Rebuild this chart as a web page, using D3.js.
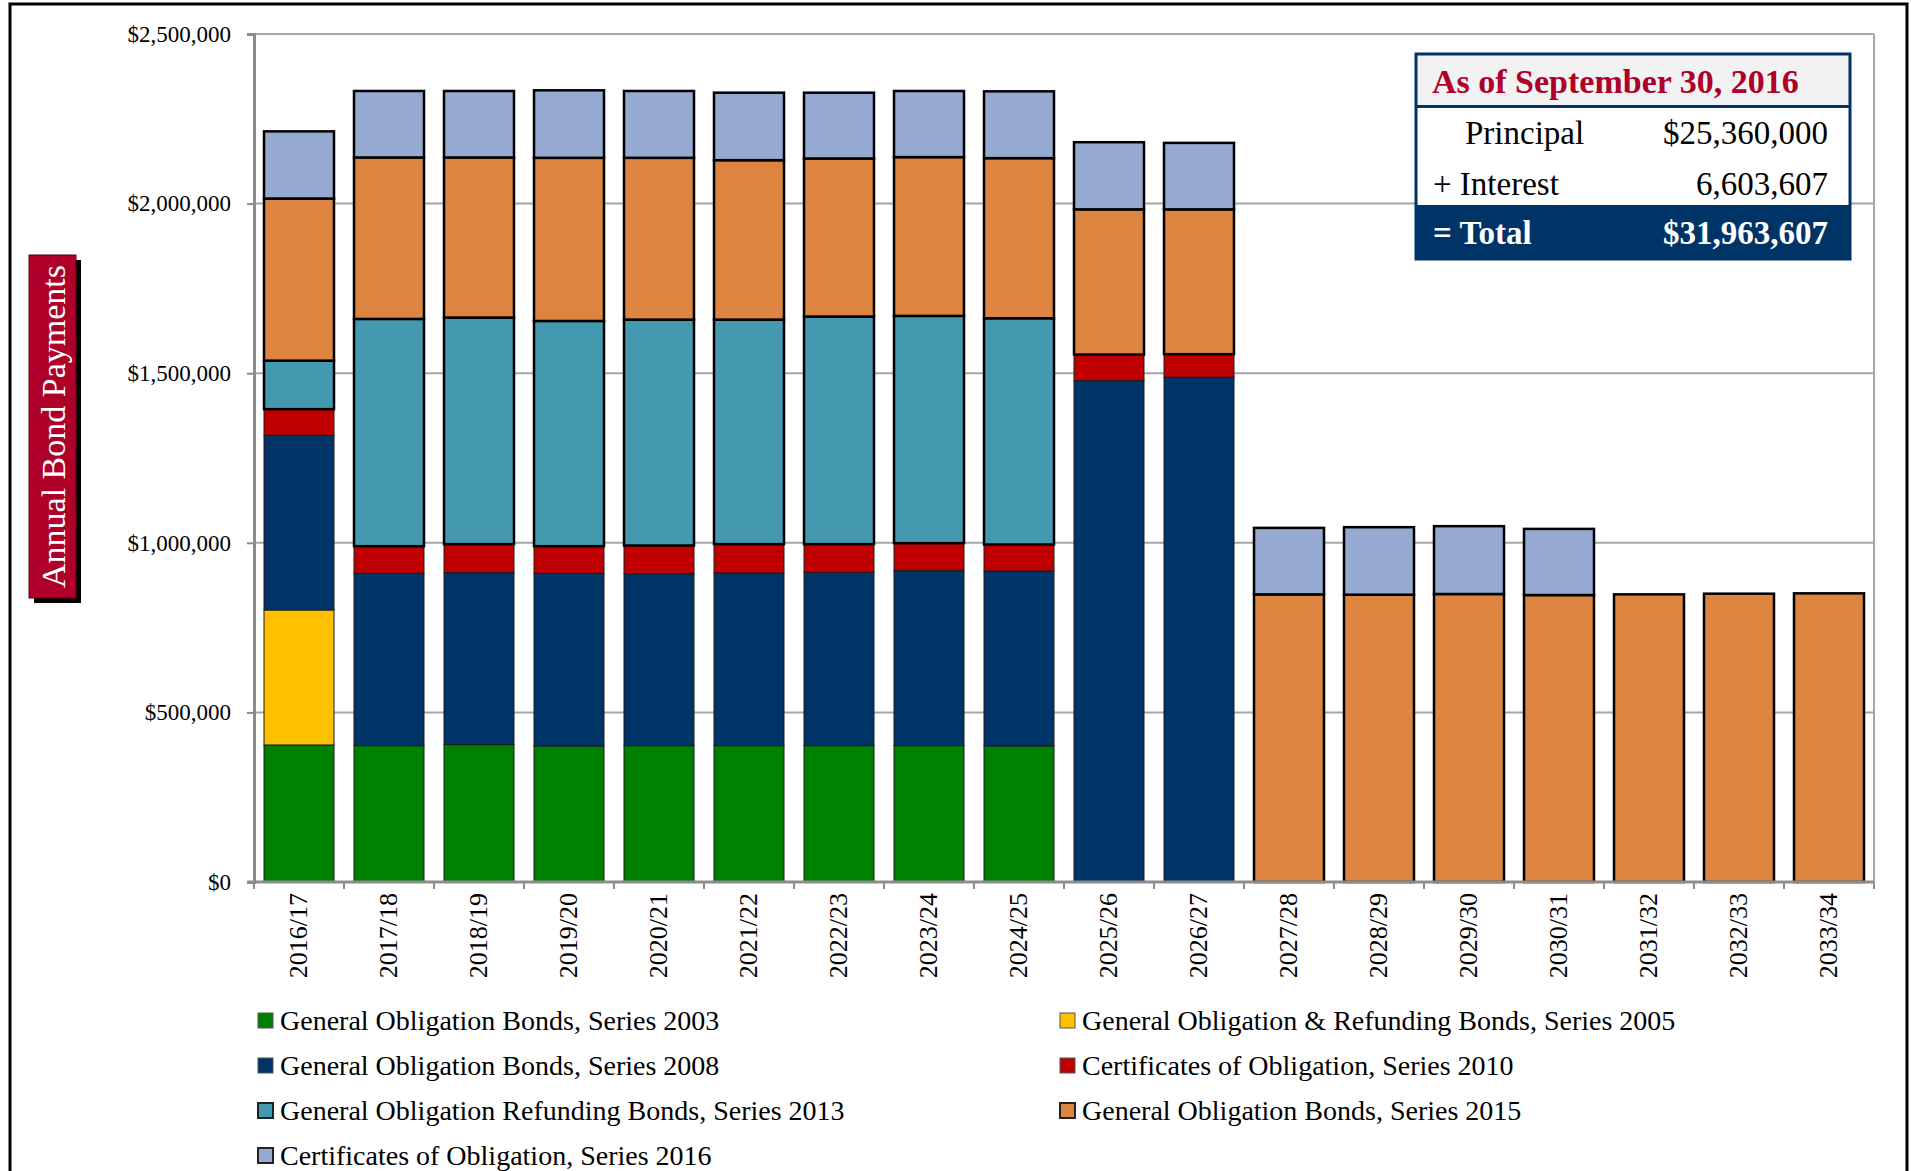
<!DOCTYPE html>
<html>
<head>
<meta charset="utf-8">
<script src="https://cdn.jsdelivr.net/npm/d3@7"></script>
<style>
  html, body { margin: 0; padding: 0; background: #ffffff; }
  svg { display: block; }
  text { font-family: "Liberation Serif", "Times New Roman", serif; }
</style>
</head>
<body>
<svg id="chart" width="1911" height="1171"></svg>
<script>
// ---------------- DATA ----------------
const categories = ["2016/17","2017/18","2018/19","2019/20","2020/21","2021/22","2022/23","2023/24","2024/25",
  "2025/26","2026/27","2027/28","2028/29","2029/30","2030/31","2031/32","2032/33","2033/34"];

const seriesNames = [
  "General Obligation Bonds, Series 2003",
  "General Obligation & Refunding Bonds, Series 2005",
  "General Obligation Bonds, Series 2008",
  "Certificates of Obligation, Series 2010",
  "General Obligation Refunding Bonds, Series 2013",
  "General Obligation Bonds, Series 2015",
  "Certificates of Obligation, Series 2016"
];

const go2003  = [404000, 402000, 405000, 401000, 402000, 402000, 402000, 402000, 401000, 0, 0, 0, 0, 0, 0, 0, 0, 0];
const gor2005 = [398000, 0, 0, 0, 0, 0, 0, 0, 0, 0, 0, 0, 0, 0, 0, 0, 0, 0];
const go2008  = [515000, 508000, 507000, 509000, 507000, 509000, 511000, 516000, 516000, 1478000, 1488000, 0, 0, 0, 0, 0, 0, 0];
const co2010  = [77000, 80000, 84000, 80000, 83000, 85000, 83000, 81000, 78000, 77000, 68000, 0, 0, 0, 0, 0, 0, 0];
const gor2013 = [143000, 670000, 668000, 664000, 666000, 662000, 671000, 670000, 667000, 0, 0, 0, 0, 0, 0, 0, 0, 0];
const go2015  = [478000, 476000, 472000, 481000, 477000, 470000, 466000, 468000, 472000, 428000, 427000, 848000, 847000, 849000, 846000, 848000, 850000, 851000];
const co2016  = [198000, 196000, 196000, 199000, 197000, 199000, 194000, 195000, 197000, 198000, 196000, 196000, 199000, 200000, 195000, 0, 0, 0];

const yTicks = [0, 500000, 1000000, 1500000, 2000000, 2500000];

const summaryTitle = "As of September 30, 2016";
const summaryRows = [
  ["Principal", "$25,360,000"],
  ["+ Interest", "6,603,607"],
  ["= Total", "$31,963,607"]
];
const yTitle = "Annual Bond Payments";

// ---------------- STYLE ----------------
const seriesValues = [go2003, gor2005, go2008, co2010, gor2013, go2015, co2016];
const colors = ["#008000", "#FFC000", "#003366", "#C00000", "#4499B0", "#DC8440", "#95A9D1"];
const thick = [false, false, false, false, true, true, true];

const svg = d3.select("#chart");
const W = 1911, H = 1171;
svg.append("rect").attr("width", W).attr("height", H).attr("fill", "#fff");

const pL = 254, pR = 1874, pT = 34, pB = 882;

const x = d3.scaleBand().domain(categories).range([pL, pR])
  .paddingInner(20 / 90).paddingOuter(10 / 90);
const y = d3.scaleLinear().domain([0, 2500000]).range([pB, pT]);

// gridlines
svg.append("g").selectAll("line").data(yTicks.filter(d => d > 0)).join("line")
  .attr("x1", pL).attr("x2", pR)
  .attr("y1", d => y(d)).attr("y2", d => y(d))
  .attr("stroke", "#A6A6A6").attr("stroke-width", 2);
// right border of plot
svg.append("line").attr("x1", pR).attr("x2", pR).attr("y1", pT).attr("y2", pB)
  .attr("stroke", "#A6A6A6").attr("stroke-width", 2);

// stacked data
const rows = categories.map((c, i) => {
  const o = { cat: c };
  seriesValues.forEach((s, k) => o["s" + k] = s[i]);
  return o;
});
const keys = seriesValues.map((s, k) => "s" + k);
const stacked = d3.stack().keys(keys)(rows);

const barsG = svg.append("g");
stacked.forEach((layer, k) => {
  barsG.append("g").selectAll("rect")
    .data(layer.filter(d => d[1] - d[0] > 0))
    .join("rect")
    .attr("x", d => x(d.data.cat))
    .attr("width", x.bandwidth())
    .attr("y", d => y(d[1]))
    .attr("height", d => y(d[0]) - y(d[1]))
    .attr("fill", colors[k])
    .attr("stroke", thick[k] ? "#000" : "#1a1a1a")
    .attr("stroke-width", thick[k] ? 2.5 : 1);
});

// Y axis
const yAxis = svg.append("g").attr("transform", `translate(${pL},0)`)
  .call(d3.axisLeft(y).tickValues(yTicks).tickSize(7).tickPadding(16)
    .tickFormat(d => "$" + d3.format(",")(d)));
yAxis.select(".domain").attr("stroke", "#8C8C8C").attr("stroke-width", 3);
yAxis.selectAll(".tick line").attr("stroke", "#8C8C8C").attr("stroke-width", 2);
yAxis.selectAll(".tick text").attr("font-size", 23).attr("fill", "#000")
  .style("font-family", "'Liberation Serif', serif");

// X axis
const xAxis = svg.append("g").attr("transform", `translate(0,${pB})`)
  .call(d3.axisBottom(x).tickSize(0));
xAxis.select(".domain").attr("stroke", "#8C8C8C").attr("stroke-width", 3)
  .attr("d", `M${pL - 7},0H${pR}`);
xAxis.selectAll(".tick text")
  .attr("transform", "rotate(-90)")
  .attr("x", -11).attr("y", 0).attr("dy", "0.3em")
  .attr("text-anchor", "end")
  .attr("font-size", 26).attr("fill", "#000")
  .style("font-family", "'Liberation Serif', serif");
const bounds = categories.map(c => x(c) - x.step() * x.paddingOuter()).concat([pR]);
svg.append("g").selectAll("line").data(bounds).join("line")
  .attr("x1", d => d).attr("x2", d => d)
  .attr("y1", pB).attr("y2", pB + 7)
  .attr("stroke", "#8C8C8C").attr("stroke-width", 2);

// Y title box
const tb = { x: 29, y: 255, w: 47, h: 343 };
svg.append("rect").attr("x", tb.x + 5).attr("y", tb.y + 5).attr("width", tb.w).attr("height", tb.h).attr("fill", "#000");
svg.append("rect").attr("x", tb.x).attr("y", tb.y).attr("width", tb.w).attr("height", tb.h)
  .attr("fill", "#AE0028").attr("stroke", "#5a0014").attr("stroke-width", 1);
svg.append("text")
  .attr("transform", `translate(${tb.x + tb.w / 2 + 1},${tb.y + tb.h / 2}) rotate(-90)`)
  .attr("text-anchor", "middle").attr("dy", "0.33em")
  .attr("font-size", 34).attr("fill", "#fff")
  .text(yTitle);

// Summary table
const T = { x: 1416, y: 54, w: 434, h: 205 };
svg.append("rect").attr("x", T.x).attr("y", T.y).attr("width", T.w).attr("height", T.h).attr("fill", "#fff");
svg.append("rect").attr("x", T.x).attr("y", T.y).attr("width", T.w).attr("height", 52).attr("fill", "#F2F2F2");
svg.append("rect").attr("x", T.x).attr("y", 205).attr("width", T.w).attr("height", 259 - 205).attr("fill", "#003366");
svg.append("line").attr("x1", T.x).attr("x2", T.x + T.w).attr("y1", 106.5).attr("y2", 106.5)
  .attr("stroke", "#003366").attr("stroke-width", 3);
svg.append("rect").attr("x", T.x).attr("y", T.y).attr("width", T.w).attr("height", T.h)
  .attr("fill", "none").attr("stroke", "#003366").attr("stroke-width", 3);
svg.append("text").attr("x", 1432).attr("y", 93).attr("font-size", 34).attr("font-weight", "bold")
  .attr("fill", "#AE0028").text(summaryTitle);
const rowBase = [144, 195, 244];
const labelX = [1465, 1433, 1433];
summaryRows.forEach((r, i) => {
  const isTotal = i === 2;
  svg.append("text").attr("x", labelX[i]).attr("y", rowBase[i]).attr("font-size", 33)
    .attr("font-weight", isTotal ? "bold" : "normal")
    .attr("fill", isTotal ? "#fff" : "#000").text(r[0]);
  svg.append("text").attr("x", 1828).attr("y", rowBase[i]).attr("font-size", 33)
    .attr("text-anchor", "end")
    .attr("font-weight", isTotal ? "bold" : "normal")
    .attr("fill", isTotal ? "#fff" : "#000").text(r[1]);
});

// Legend
const legendOrder = [
  { k: 0, col: 0, row: 0 }, { k: 1, col: 1, row: 0 },
  { k: 2, col: 0, row: 1 }, { k: 3, col: 1, row: 1 },
  { k: 4, col: 0, row: 2 }, { k: 5, col: 1, row: 2 },
  { k: 6, col: 0, row: 3 }
];
const colX = [258, 1060];
const lg = svg.append("g").selectAll("g").data(legendOrder).join("g")
  .attr("transform", d => `translate(${colX[d.col]},${1013 + 45 * d.row})`);
lg.append("rect").attr("width", 15).attr("height", 15)
  .attr("fill", d => colors[d.k])
  .attr("stroke", d => thick[d.k] ? "#222" : "#555")
  .attr("stroke-width", d => thick[d.k] ? 2 : 1);
lg.append("text").attr("x", 22).attr("y", 17).attr("font-size", 28).attr("fill", "#000")
  .text(d => seriesNames[d.k]);

// Outer frame
svg.append("rect").attr("x", 10).attr("y", 4).attr("width", 1897).attr("height", 1200)
  .attr("fill", "none").attr("stroke", "#000").attr("stroke-width", 3);
</script>
</body>
</html>
